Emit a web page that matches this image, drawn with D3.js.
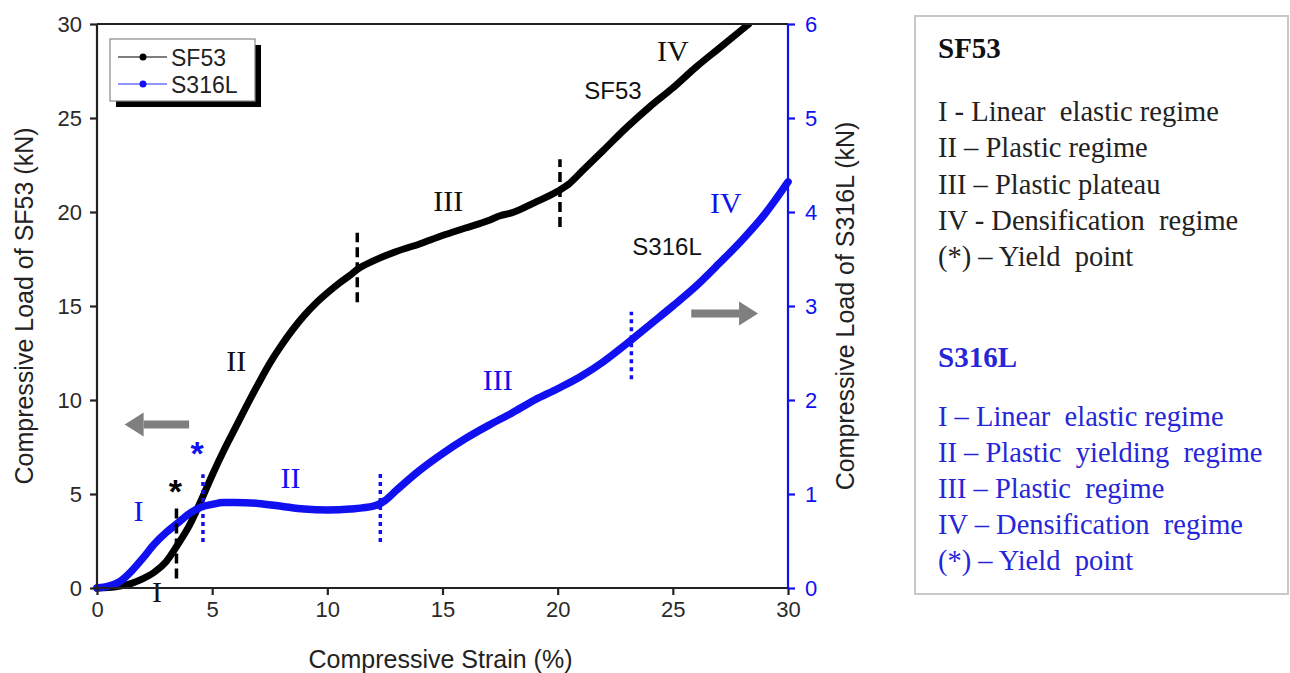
<!DOCTYPE html>
<html>
<head>
<meta charset="utf-8">
<script src="https://cdn.jsdelivr.net/npm/d3@7"></script>
<style>
  body { margin: 0; background: #fff; }
  svg { display: block; }
</style>
</head>
<body>
<div id="chart"></div>
<script>
// strain (%) and loads
const sfStrain = [0, 0.5, 1, 1.5, 2, 2.5, 3, 3.5, 4, 4.5, 5, 5.5, 6, 6.5, 7, 7.5, 8, 8.5, 9, 9.5, 10, 10.5, 11, 11.3, 12, 13, 14, 15, 16, 17, 17.5, 18, 19, 20, 20.5, 21, 22, 23, 24, 25, 26, 27, 28, 28.3];
const sfLoad = [0, 0.02, 0.1, 0.25, 0.5, 0.85, 1.4, 2.3, 3.3, 4.6, 6.0, 7.3, 8.5, 9.7, 10.85, 11.95, 12.9, 13.75, 14.5, 15.15, 15.7, 16.2, 16.65, 16.95, 17.4, 17.9, 18.3, 18.75, 19.15, 19.55, 19.8, 19.95, 20.5, 21.1, 21.5, 22.1, 23.3, 24.5, 25.6, 26.6, 27.7, 28.7, 29.7, 30];

const ssStrain = [0, 0.5, 1, 1.5, 2, 2.5, 3, 3.5, 4, 4.5, 5, 5.5, 6, 7, 8, 9, 10, 11, 12, 12.5, 13, 14, 15, 16, 17, 18, 19, 20, 21, 22, 23, 24, 25, 26, 27, 28, 29, 30];
const ssLoad = [0, 0.02, 0.07, 0.18, 0.32, 0.47, 0.59, 0.69, 0.79, 0.86, 0.89, 0.91, 0.91, 0.9, 0.87, 0.84, 0.83, 0.84, 0.87, 0.93, 1.04, 1.25, 1.43, 1.59, 1.73, 1.86, 2.0, 2.12, 2.25, 2.41, 2.6, 2.8, 3.0, 3.21, 3.45, 3.70, 3.98, 4.32];

const xTicks = [0, 5, 10, 15, 20, 25, 30];
const yLeftTicks = [0, 5, 10, 15, 20, 25, 30];
const yRightTicks = [0, 1, 2, 3, 4, 5, 6];

// regime boundaries: strain, from, to (left axis units for SF53, right axis for S316L)
const sfBounds = [[3.45, 0.5, 4.5], [11.3, 15.2, 18.9], [20.1, 19.2, 22.8]];
const ssBounds = [[4.6, 0.49, 1.21], [12.3, 0.49, 1.22], [23.2, 2.22, 2.94]];

// regime labels
const sfLabels = [["I", 2.6, -0.2], ["II", 6.05, 12.1], ["III", 15.25, 20.6], ["IV", 25, 28.6]];
const ssLabels = [["I", 1.8, 0.82], ["II", 8.4, 1.18], ["III", 17.4, 2.22], ["IV", 27.3, 4.1]];

const legendNames = ["SF53", "S316L"];
const sfNotes = ["I - Linear  elastic regime", "II \u2013 Plastic regime", "III \u2013 Plastic plateau", "IV - Densification  regime", "(*) \u2013 Yield  point"];
const ssNotes = ["I \u2013 Linear  elastic regime", "II \u2013 Plastic  yielding  regime", "III \u2013 Plastic  regime", "IV \u2013 Densification  regime", "(*) \u2013 Yield  point"];

const width = 1290, height = 673;
const margin = { top: 24, right: 502, bottom: 85, left: 97 };
const blue = "#1010f0";
const noteBlue = "#2626d8";
const sans = "Liberation Sans, Arial";
const serif = "Liberation Serif, Times New Roman";

const svg = d3.select("#chart").append("svg")
  .attr("width", width).attr("height", height);

const x = d3.scaleLinear().domain([0, 30]).range([margin.left, width - margin.right]);
const yL = d3.scaleLinear().domain([0, 30]).range([height - margin.bottom, margin.top]);
const yR = d3.scaleLinear().domain([0, 6]).range([height - margin.bottom, margin.top]);

svg.append("defs").append("clipPath").attr("id", "plot")
  .append("rect")
  .attr("x", x(0) - 5).attr("y", yL(30))
  .attr("width", x(30) - x(0) + 10).attr("height", yL(0) - yL(30) + 5);

// curves
const sfLine = d3.line().x(d => x(d[0])).y(d => yL(d[1])).curve(d3.curveMonotoneX);
const ssLine = d3.line().x(d => x(d[0])).y(d => yR(d[1])).curve(d3.curveMonotoneX);

const plot = svg.append("g").attr("clip-path", "url(#plot)");
plot.append("path")
  .attr("d", sfLine(d3.zip(sfStrain, sfLoad)))
  .attr("fill", "none").attr("stroke", "#000").attr("stroke-width", 7)
  .attr("stroke-linecap", "round");
plot.append("path")
  .attr("d", ssLine(d3.zip(ssStrain, ssLoad)))
  .attr("fill", "none").attr("stroke", blue).attr("stroke-width", 7.5)
  .attr("stroke-linecap", "round");

// boundaries
svg.append("g").selectAll("line").data(sfBounds).join("line")
  .attr("x1", d => x(d[0])).attr("x2", d => x(d[0]))
  .attr("y1", d => yL(d[1])).attr("y2", d => yL(d[2]))
  .attr("stroke", "#000").attr("stroke-width", 3.5).attr("stroke-dasharray", "10,5");
svg.append("g").selectAll("line").data(ssBounds).join("line")
  .attr("x1", d => x(d[0])).attr("x2", d => x(d[0]))
  .attr("y1", d => yR(d[1])).attr("y2", d => yR(d[2]))
  .attr("stroke", blue).attr("stroke-width", 3.5).attr("stroke-dasharray", "4,4");

// yield stars
svg.append("text").attr("x", x(3.4)).attr("y", yL(4.5)).attr("text-anchor", "middle")
  .attr("font-family", sans).attr("font-size", 34).attr("font-weight", "bold")
  .attr("fill", "#000").text("*");
svg.append("text").attr("x", x(4.35)).attr("y", yR(1.31)).attr("text-anchor", "middle")
  .attr("font-family", sans).attr("font-size", 34).attr("font-weight", "bold")
  .attr("fill", blue).text("*");

// roman numerals
const roman = (data, yScale, color) => svg.append("g").selectAll("text").data(data).join("text")
  .attr("x", d => x(d[1])).attr("y", d => yScale(d[2]))
  .attr("text-anchor", "middle").attr("dominant-baseline", "central")
  .attr("font-family", serif).attr("font-size", 30)
  .attr("fill", color).text(d => d[0]);
roman(sfLabels, yL, "#111");
roman(ssLabels, yR, blue);

svg.append("text").attr("x", x(22.4)).attr("y", yL(26.0)).attr("text-anchor", "middle")
  .attr("font-family", sans).attr("font-size", 24).attr("fill", "#111").text("SF53");
svg.append("text").attr("x", x(24.75)).attr("y", yR(3.54)).attr("text-anchor", "middle")
  .attr("font-family", sans).attr("font-size", 24).attr("fill", "#111").text("S316L");

// gray arrows
const arrow = (x1, x2, yv) => {
  const dir = Math.sign(x2 - x1);
  const tip = x(x2), base = x(x2) - dir * 19, yy = yL(yv);
  svg.append("line").attr("x1", x(x1)).attr("x2", base).attr("y1", yy).attr("y2", yy)
    .attr("stroke", "#7f7f7f").attr("stroke-width", 8);
  svg.append("path").attr("d", `M${tip},${yy} L${base},${yy - 12} L${base},${yy + 12} Z`)
    .attr("fill", "#7f7f7f");
};
arrow(4.0, 1.2, 8.7);
arrow(25.8, 28.7, 14.6);

// axes
const tickFont = g => g.attr("font-size", 22).selectAll("text")
  .attr("font-family", sans).attr("font-size", 22);

svg.append("g").attr("transform", `translate(0,${yL(0)})`)
  .call(d3.axisBottom(x).tickValues(xTicks).tickSize(7).tickPadding(6))
  .call(g => g.selectAll("line,path").attr("stroke", "#222").attr("stroke-width", 2.2))
  .call(g => g.select(".domain").attr("d", `M${x(0)},0H${x(30)}`))
  .call(tickFont).call(g => g.selectAll("text").attr("fill", "#2a2a2a"));

svg.append("g").attr("transform", `translate(${x(0)},0)`)
  .call(d3.axisLeft(yL).tickValues(yLeftTicks).tickSize(7).tickPadding(8))
  .call(g => g.selectAll("line,path").attr("stroke", "#222").attr("stroke-width", 2.2))
  .call(g => g.select(".domain").attr("d", `M0,${yL(0)}V${yL(30)}`))
  .call(tickFont).call(g => g.selectAll("text").attr("fill", "#2a2a2a"));

// top frame
svg.append("line").attr("x1", x(0)).attr("x2", x(30)).attr("y1", yL(30)).attr("y2", yL(30))
  .attr("stroke", "#222").attr("stroke-width", 2.2);

svg.append("g").attr("transform", `translate(${x(30)},0)`)
  .call(d3.axisRight(yR).tickValues(yRightTicks).tickFormat(d3.format("d")).tickSize(7).tickPadding(10))
  .call(g => g.selectAll("line,path").attr("stroke", blue).attr("stroke-width", 2.2))
  .call(g => g.select(".domain").attr("d", `M0,${yR(0)}V${yR(6)}`))
  .call(tickFont).call(g => g.selectAll("text").attr("fill", blue));

// axis titles
svg.append("text").attr("x", (x(0) + x(30)) / 2 - 2).attr("y", 668).attr("text-anchor", "middle")
  .attr("font-family", sans).attr("font-size", 25).attr("fill", "#222")
  .text("Compressive Strain (%)");
svg.append("text").attr("transform", `translate(33,${(yL(0) + yL(30)) / 2}) rotate(-90)`)
  .attr("text-anchor", "middle")
  .attr("font-family", sans).attr("font-size", 25).attr("fill", "#222")
  .text("Compressive Load of SF53 (kN)");
svg.append("text").attr("transform", `translate(854,${(yL(0) + yL(30)) / 2}) rotate(-90)`)
  .attr("text-anchor", "middle")
  .attr("font-family", sans).attr("font-size", 25).attr("fill", "#222")
  .text("Compressive Load of S316L (kN)");

// legend
const lg = svg.append("g").attr("transform", "translate(110,39)");
lg.append("rect").attr("x", 6).attr("y", 6).attr("width", 145).attr("height", 62).attr("fill", "#000");
lg.append("rect").attr("x", 0).attr("y", 0).attr("width", 145).attr("height", 62)
  .attr("fill", "#fff").attr("stroke", "#888").attr("stroke-width", 1.2);
legendNames.forEach((name, i) => {
  const yy = 18 + i * 27;
  const col = i === 0 ? "#000" : blue;
  lg.append("line").attr("x1", 8).attr("x2", 57).attr("y1", yy).attr("y2", yy)
    .attr("stroke", i === 0 ? "#555" : "#7070ff").attr("stroke-width", 1.5);
  lg.append("circle").attr("cx", 33).attr("cy", yy).attr("r", 3.5).attr("fill", col);
  lg.append("text").attr("x", 61).attr("y", yy + 1).attr("dominant-baseline", "central")
    .attr("font-family", sans).attr("font-size", 23).attr("fill", "#222").text(name);
});

// notes box
const nb = svg.append("g");
nb.append("rect").attr("x", 915).attr("y", 16).attr("width", 373).attr("height", 578)
  .attr("fill", "#fff").attr("stroke", "#c8c8c8").attr("stroke-width", 2);
nb.append("text").attr("x", 938).attr("y", 58).attr("font-family", serif).attr("font-size", 29)
  .attr("font-weight", "bold").attr("fill", "#111").text("SF53");
nb.selectAll(".sfn").data(sfNotes).join("text").attr("class", "sfn")
  .attr("x", 938).attr("y", (d, i) => 121 + i * 36.3)
  .attr("font-family", serif).attr("font-size", 28.5).attr("fill", "#222")
  .attr("xml:space", "preserve").style("white-space", "pre").text(d => d);
nb.append("text").attr("x", 938).attr("y", 367).attr("font-family", serif).attr("font-size", 29)
  .attr("font-weight", "bold").attr("fill", noteBlue).text("S316L");
nb.selectAll(".ssn").data(ssNotes).join("text").attr("class", "ssn")
  .attr("x", 938).attr("y", (d, i) => 426 + i * 36)
  .attr("font-family", serif).attr("font-size", 28.5).attr("fill", noteBlue)
  .attr("xml:space", "preserve").style("white-space", "pre").text(d => d);
</script>
</body>
</html>
